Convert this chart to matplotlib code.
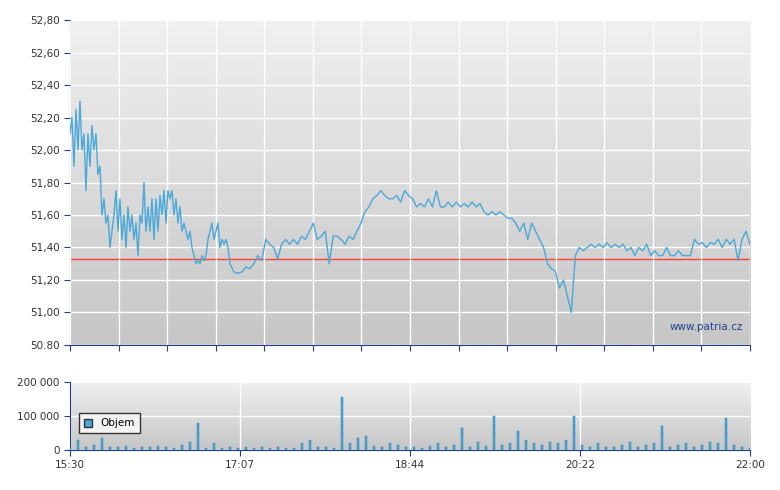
import numpy as np
import matplotlib.pyplot as plt
from matplotlib.patches import Patch
from matplotlib.ticker import FixedLocator, FuncFormatter

# price; first part fine resolution, rest coarser
price_early = [52.1, 52.2, 51.9, 52.25, 52.0, 52.3, 52.0, 52.1, 51.75, 52.1, 51.9, 52.15, 52.0, 52.1,
               51.85, 51.9, 51.6, 51.7, 51.55, 51.6, 51.4, 51.5, 51.6, 51.75, 51.5, 51.7, 51.45, 51.6,
               51.4, 51.65, 51.5, 51.6, 51.45, 51.55, 51.35, 51.6, 51.55, 51.8, 51.5, 51.65, 51.5, 51.7,
               51.45, 51.7, 51.5, 51.72, 51.6, 51.75, 51.55, 51.75, 51.7, 51.75, 51.6, 51.7, 51.55, 51.65,
               51.5, 51.55, 51.5, 51.45, 51.5, 51.4, 51.35, 51.3, 51.32, 51.3, 51.35, 51.32, 51.35, 51.45,
               51.5, 51.55, 51.45, 51.5, 51.55, 51.4, 51.45, 51.42, 51.45, 51.4, 51.3]
price_late = [51.25, 51.24, 51.25, 51.28, 51.27, 51.3, 51.35, 51.32, 51.45, 51.42, 51.4, 51.33, 51.42,
              51.45, 51.42, 51.45, 51.42, 51.47, 51.45, 51.5, 51.55, 51.45, 51.47, 51.5, 51.3, 51.47,
              51.47, 51.45, 51.42, 51.47, 51.45, 51.5, 51.55, 51.62, 51.65, 51.7, 51.72, 51.75, 51.72,
              51.7, 51.7, 51.72, 51.68, 51.75, 51.72, 51.7, 51.65, 51.67, 51.65, 51.7, 51.65, 51.75,
              51.65, 51.65, 51.68, 51.65, 51.68, 51.65, 51.67, 51.65, 51.68, 51.65, 51.67, 51.62, 51.6,
              51.62, 51.6, 51.62, 51.6, 51.58, 51.58, 51.55, 51.5, 51.55, 51.45, 51.55, 51.5, 51.45,
              51.4, 51.3, 51.27, 51.25, 51.15, 51.2, 51.1, 51.0, 51.35, 51.4, 51.38, 51.4, 51.42, 51.4,
              51.42, 51.4, 51.43, 51.4, 51.42, 51.4, 51.42, 51.38, 51.4, 51.35, 51.4, 51.38, 51.42,
              51.35, 51.38, 51.35, 51.35, 51.4, 51.35, 51.35, 51.38, 51.35, 51.35, 51.35, 51.45, 51.42,
              51.43, 51.4, 51.43, 51.42, 51.45, 51.4, 51.45, 51.42, 51.45, 51.32, 51.45, 51.5, 51.42]
prev_close = 51.33

volume = [5000, 30000, 8000, 15000, 35000, 10000, 8000, 12000, 6000, 10000, 8000, 12000, 8000, 6000,
          15000, 25000, 80000, 5000, 20000, 6000, 10000, 5000, 8000, 6000, 10000, 5000, 8000, 6000,
          5000, 20000, 30000, 8000, 10000, 5000, 155000, 20000, 35000, 40000, 12000, 8000, 20000,
          15000, 8000, 10000, 6000, 12000, 20000, 8000, 15000, 65000, 10000, 25000, 12000, 100000,
          15000, 20000, 55000, 30000, 20000, 15000, 25000, 20000, 30000, 100000, 15000, 10000, 20000,
          8000, 10000, 15000, 25000, 10000, 15000, 20000, 70000, 10000, 15000, 20000, 10000, 15000,
          25000, 20000, 95000, 15000, 10000, 5000]

time_labels = ["15:30", "17:07", "18:44", "20:22", "22:00"]
price_ticks = np.arange(50.8, 52.81, 0.2)
vol_ticks = [0, 100000, 200000]

# time axis in minutes since 15:30 (session = 390 min)
step_early = 390 / 680 * 2
t_early = np.arange(len(price_early)) * step_early
t_late = np.linspace(t_early[-1] + 2 * step_early, 390, len(price_late))
t = np.concatenate([t_early, t_late])
price = np.array(price_early + price_late)
t_vol = np.linspace(0, 390, len(volume))

blue = "#4aa8d8"
axis_blue = "#1f3f8f"
fig = plt.figure(figsize=(7.8, 4.9), dpi=100)
ax = fig.add_axes([0.0897, 0.296, 0.8718, 0.663])
axv = fig.add_axes([0.0897, 0.0816, 0.8718, 0.1388])

grad = np.linspace(0, 1, 256).reshape(-1, 1)
for a, ylim in ((ax, (50.8, 52.8)), (axv, (0, 200000))):
    a.imshow(grad, cmap=plt.matplotlib.colors.LinearSegmentedColormap.from_list("g", ["#c6c6c6", "#f0f0f0"]),
             extent=[0, 390, ylim[0], ylim[1]], aspect="auto", origin="lower", zorder=0)
    a.set_xlim(0, 390)
    a.set_ylim(*ylim)
    for s in ("top", "right"):
        a.spines[s].set_visible(False)
    a.spines["left"].set_color(axis_blue)
    a.spines["bottom"].set_color(axis_blue)
    a.tick_params(colors="#333333", labelsize=7.5, length=4, color=axis_blue)

fmt = FuncFormatter(lambda v, p: f"{v:.2f}".replace(".", ","))
ax.set_yticks(price_ticks)
ax.yaxis.set_major_formatter(FuncFormatter(lambda v, p: "50.80" if abs(v - 50.8) < 1e-6 else fmt(v, p)))
grid_x = np.linspace(0, 390, 15)
ax.set_xticks(grid_x)
ax.set_xticklabels([])
ax.grid(True, color="white", linewidth=1, zorder=1)
ax.set_axisbelow(False)
ax.plot(t, price, color=blue, linewidth=1, zorder=3)
ax.axhline(prev_close, color="#ff3b3b", linewidth=1, zorder=2)
ax.text(0.99, 0.04, "www.patria.cz", transform=ax.transAxes, ha="right", va="bottom",
        fontsize=7.5, color="#1f3f8f", zorder=4)

axv.bar(t_vol, volume, width=1.3, color=blue, edgecolor="#2a78a8", linewidth=0.3, zorder=3)
axv.set_yticks(vol_ticks)
axv.yaxis.set_major_formatter(FuncFormatter(lambda v, p: f"{int(v):,}".replace(",", " ")))
axv.xaxis.set_major_locator(FixedLocator(np.linspace(0, 390, 5)))
axv.set_xticklabels(time_labels)
axv.grid(True, color="white", linewidth=1, zorder=1)
axv.legend(handles=[Patch(facecolor=blue, edgecolor="#333333", label="Objem")], loc="upper left",
           bbox_to_anchor=(0.005, 0.62), fontsize=7.5, frameon=True, fancybox=False,
           edgecolor="#333333", facecolor="#f4f4f4", handlelength=0.8, handleheight=0.8,
           borderpad=0.5, framealpha=1)

fig.savefig("out.png", dpi=100)
